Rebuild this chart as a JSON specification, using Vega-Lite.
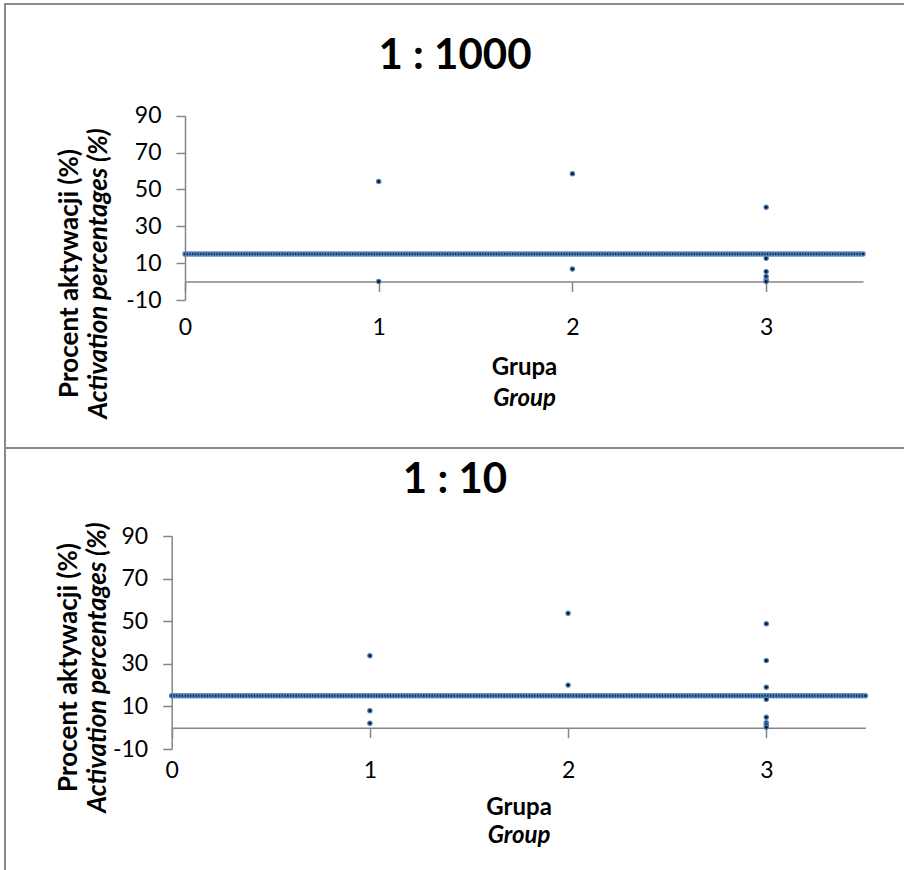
{
  "$schema": "https://vega.github.io/schema/vega-lite/v6.json",
  "padding": {"left": 4, "top": 3, "right": 0, "bottom": 0},
  "background": "white",
  "spacing": 0,
  "bounds": "flush",
  "config": {
    "font": "Lato",
    "view": {"stroke": "#8a8a8a", "strokeWidth": 2},
    "axis": {
      "grid": false,
      "domainColor": "#868686",
      "tickColor": "#868686",
      "domainWidth": 1.5,
      "tickWidth": 1.5,
      "labelColor": "#000000",
      "titleColor": "#000000",
      "labelFont": "Lato",
      "titleFont": "Lato",
      "labelFontSize": 23,
      "titleFontSize": 26,
      "titleFontWeight": "bold",
      "labelFlush": false,
      "labelOverlap": false,
      "labelBound": false,
      "labelExpr": "'' + datum.value"
    },
    "axisX": {"titleFontSize": 24},
    "title": {"font": "Lato", "color": "#000000"}
  },
  "datasets": {
    "ref": [
      {"x":0,"y":15},{"x":0.014,"y":15},{"x":0.028,"y":15},{"x":0.042,"y":15},{"x":0.056,"y":15},{"x":0.07,"y":15},{"x":0.084,"y":15},{"x":0.098,"y":15},{"x":0.112,"y":15},{"x":0.126,"y":15},
      {"x":0.14,"y":15},{"x":0.154,"y":15},{"x":0.168,"y":15},{"x":0.182,"y":15},{"x":0.196,"y":15},{"x":0.21,"y":15},{"x":0.224,"y":15},{"x":0.238,"y":15},{"x":0.252,"y":15},{"x":0.266,"y":15},
      {"x":0.28,"y":15},{"x":0.294,"y":15},{"x":0.308,"y":15},{"x":0.322,"y":15},{"x":0.336,"y":15},{"x":0.35,"y":15},{"x":0.364,"y":15},{"x":0.378,"y":15},{"x":0.392,"y":15},{"x":0.406,"y":15},
      {"x":0.42,"y":15},{"x":0.434,"y":15},{"x":0.448,"y":15},{"x":0.462,"y":15},{"x":0.476,"y":15},{"x":0.49,"y":15},{"x":0.504,"y":15},{"x":0.518,"y":15},{"x":0.532,"y":15},{"x":0.546,"y":15},
      {"x":0.56,"y":15},{"x":0.574,"y":15},{"x":0.588,"y":15},{"x":0.602,"y":15},{"x":0.616,"y":15},{"x":0.63,"y":15},{"x":0.644,"y":15},{"x":0.658,"y":15},{"x":0.672,"y":15},{"x":0.686,"y":15},
      {"x":0.7,"y":15},{"x":0.714,"y":15},{"x":0.728,"y":15},{"x":0.742,"y":15},{"x":0.756,"y":15},{"x":0.77,"y":15},{"x":0.784,"y":15},{"x":0.798,"y":15},{"x":0.812,"y":15},{"x":0.826,"y":15},
      {"x":0.84,"y":15},{"x":0.854,"y":15},{"x":0.868,"y":15},{"x":0.882,"y":15},{"x":0.896,"y":15},{"x":0.91,"y":15},{"x":0.924,"y":15},{"x":0.938,"y":15},{"x":0.952,"y":15},{"x":0.966,"y":15},
      {"x":0.98,"y":15},{"x":0.994,"y":15},{"x":1.008,"y":15},{"x":1.022,"y":15},{"x":1.036,"y":15},{"x":1.05,"y":15},{"x":1.064,"y":15},{"x":1.078,"y":15},{"x":1.092,"y":15},{"x":1.106,"y":15},
      {"x":1.12,"y":15},{"x":1.134,"y":15},{"x":1.148,"y":15},{"x":1.162,"y":15},{"x":1.176,"y":15},{"x":1.19,"y":15},{"x":1.204,"y":15},{"x":1.218,"y":15},{"x":1.232,"y":15},{"x":1.246,"y":15},
      {"x":1.26,"y":15},{"x":1.274,"y":15},{"x":1.288,"y":15},{"x":1.302,"y":15},{"x":1.316,"y":15},{"x":1.33,"y":15},{"x":1.344,"y":15},{"x":1.358,"y":15},{"x":1.372,"y":15},{"x":1.386,"y":15},
      {"x":1.4,"y":15},{"x":1.414,"y":15},{"x":1.428,"y":15},{"x":1.442,"y":15},{"x":1.456,"y":15},{"x":1.47,"y":15},{"x":1.484,"y":15},{"x":1.498,"y":15},{"x":1.512,"y":15},{"x":1.526,"y":15},
      {"x":1.54,"y":15},{"x":1.554,"y":15},{"x":1.568,"y":15},{"x":1.582,"y":15},{"x":1.596,"y":15},{"x":1.61,"y":15},{"x":1.624,"y":15},{"x":1.638,"y":15},{"x":1.652,"y":15},{"x":1.666,"y":15},
      {"x":1.68,"y":15},{"x":1.694,"y":15},{"x":1.708,"y":15},{"x":1.722,"y":15},{"x":1.736,"y":15},{"x":1.75,"y":15},{"x":1.764,"y":15},{"x":1.778,"y":15},{"x":1.792,"y":15},{"x":1.806,"y":15},
      {"x":1.82,"y":15},{"x":1.834,"y":15},{"x":1.848,"y":15},{"x":1.862,"y":15},{"x":1.876,"y":15},{"x":1.89,"y":15},{"x":1.904,"y":15},{"x":1.918,"y":15},{"x":1.932,"y":15},{"x":1.946,"y":15},
      {"x":1.96,"y":15},{"x":1.974,"y":15},{"x":1.988,"y":15},{"x":2.002,"y":15},{"x":2.016,"y":15},{"x":2.03,"y":15},{"x":2.044,"y":15},{"x":2.058,"y":15},{"x":2.072,"y":15},{"x":2.086,"y":15},
      {"x":2.1,"y":15},{"x":2.114,"y":15},{"x":2.128,"y":15},{"x":2.142,"y":15},{"x":2.156,"y":15},{"x":2.17,"y":15},{"x":2.184,"y":15},{"x":2.198,"y":15},{"x":2.212,"y":15},{"x":2.226,"y":15},
      {"x":2.24,"y":15},{"x":2.254,"y":15},{"x":2.268,"y":15},{"x":2.282,"y":15},{"x":2.296,"y":15},{"x":2.31,"y":15},{"x":2.324,"y":15},{"x":2.338,"y":15},{"x":2.352,"y":15},{"x":2.366,"y":15},
      {"x":2.38,"y":15},{"x":2.394,"y":15},{"x":2.408,"y":15},{"x":2.422,"y":15},{"x":2.436,"y":15},{"x":2.45,"y":15},{"x":2.464,"y":15},{"x":2.478,"y":15},{"x":2.492,"y":15},{"x":2.506,"y":15},
      {"x":2.52,"y":15},{"x":2.534,"y":15},{"x":2.548,"y":15},{"x":2.562,"y":15},{"x":2.576,"y":15},{"x":2.59,"y":15},{"x":2.604,"y":15},{"x":2.618,"y":15},{"x":2.632,"y":15},{"x":2.646,"y":15},
      {"x":2.66,"y":15},{"x":2.674,"y":15},{"x":2.688,"y":15},{"x":2.702,"y":15},{"x":2.716,"y":15},{"x":2.73,"y":15},{"x":2.744,"y":15},{"x":2.758,"y":15},{"x":2.772,"y":15},{"x":2.786,"y":15},
      {"x":2.8,"y":15},{"x":2.814,"y":15},{"x":2.828,"y":15},{"x":2.842,"y":15},{"x":2.856,"y":15},{"x":2.87,"y":15},{"x":2.884,"y":15},{"x":2.898,"y":15},{"x":2.912,"y":15},{"x":2.926,"y":15},
      {"x":2.94,"y":15},{"x":2.954,"y":15},{"x":2.968,"y":15},{"x":2.982,"y":15},{"x":2.996,"y":15},{"x":3.01,"y":15},{"x":3.024,"y":15},{"x":3.038,"y":15},{"x":3.052,"y":15},{"x":3.066,"y":15},
      {"x":3.08,"y":15},{"x":3.094,"y":15},{"x":3.108,"y":15},{"x":3.122,"y":15},{"x":3.136,"y":15},{"x":3.15,"y":15},{"x":3.164,"y":15},{"x":3.178,"y":15},{"x":3.192,"y":15},{"x":3.206,"y":15},
      {"x":3.22,"y":15},{"x":3.234,"y":15},{"x":3.248,"y":15},{"x":3.262,"y":15},{"x":3.276,"y":15},{"x":3.29,"y":15},{"x":3.304,"y":15},{"x":3.318,"y":15},{"x":3.332,"y":15},{"x":3.346,"y":15},
      {"x":3.36,"y":15},{"x":3.374,"y":15},{"x":3.388,"y":15},{"x":3.402,"y":15},{"x":3.416,"y":15},{"x":3.43,"y":15},{"x":3.444,"y":15},{"x":3.458,"y":15},{"x":3.472,"y":15},{"x":3.486,"y":15},
      {"x":3.5,"y":15}
    ],
    "p1000": [
      {"g":1,"v":54.3},{"g":1,"v":0},
      {"g":2,"v":58.5},{"g":2,"v":6.8},
      {"g":3,"v":40.3},{"g":3,"v":12.6},{"g":3,"v":5.4},{"g":3,"v":2.7},{"g":3,"v":0.9},{"g":3,"v":0}
    ],
    "p10": [
      {"g":1,"v":33.8},{"g":1,"v":8},{"g":1,"v":2.1},
      {"g":2,"v":53.7},{"g":2,"v":20},
      {"g":3,"v":48.8},{"g":3,"v":31.5},{"g":3,"v":19},{"g":3,"v":13.3},{"g":3,"v":4.9},{"g":3,"v":2.3},{"g":3,"v":1.3},{"g":3,"v":0.2}
    ]
  },
  "resolve": {"scale": {"x": "independent", "y": "independent"}},
  "vconcat": [
    {
      "width": 900,
      "height": 444,
      "title": {"text": "1 : 1000", "fontSize": 42, "fontWeight": "bold", "offset": -94, "baseline": "middle", "anchor": "middle", "frame": "group"},
      "resolve": {"axis": {"x": "independent", "y": "independent"}},
      "layer": [
        {
          "data": {"name": "ref"},
          "mark": {"type": "circle", "size": 16, "fill": "#17243f", "stroke": "#4f81bd", "strokeWidth": 1.5, "opacity": 1},
          "encoding": {
            "x": {"field": "x", "type": "quantitative",
              "scale": {"domain": [0, 3.5], "range": [180, 858], "nice": false, "zero": false},
              "axis": {"orient": "bottom", "offset": -166.4, "values": [0, 1, 2, 3], "tickSize": 10, "labelPadding": 25, "title": "Grupa", "titleY": 86, "titleBaseline": "middle"}},
            "y": {"field": "y", "type": "quantitative",
              "scale": {"domain": [-10, 90], "range": [296, 111.7], "nice": false, "zero": false},
              "axis": {"orient": "left", "offset": -180, "values": [-10, 10, 30, 50, 70, 90], "tickSize": 9, "labelPadding": 15, "title": "Activation percentages (%)", "titleFontStyle": "italic", "titleX": -87, "titleY": 269, "titleBaseline": "middle", "titleAlign": "center"}}
          }
        },
        {
          "data": {"name": "p1000"},
          "mark": {"type": "circle", "size": 18, "fill": "#0b1326", "stroke": "#4f81bd", "strokeWidth": 1.2, "opacity": 1},
          "encoding": {
            "x": {"field": "g", "type": "quantitative",
              "scale": {"domain": [0, 3.5], "range": [180, 858], "nice": false, "zero": false},
              "axis": {"orient": "bottom", "offset": -166.4, "domain": false, "ticks": false, "labels": false, "title": "Group", "titleFontStyle": "italic", "titleY": 117, "titleBaseline": "middle"}},
            "y": {"field": "v", "type": "quantitative",
              "scale": {"domain": [-10, 90], "range": [296, 111.7], "nice": false, "zero": false},
              "axis": {"orient": "left", "offset": -180, "domain": false, "ticks": false, "labels": false, "title": "Procent aktywacji (%)", "titleX": -116, "titleY": 269, "titleBaseline": "middle", "titleAlign": "center"}}
          }
        }
      ]
    },
    {
      "width": 900,
      "height": 424,
      "title": {"text": "1 : 10", "fontSize": 42, "fontWeight": "bold", "offset": -74, "baseline": "middle", "anchor": "middle", "frame": "group"},
      "resolve": {"axis": {"x": "independent", "y": "independent"}},
      "layer": [
        {
          "data": {"name": "ref"},
          "mark": {"type": "circle", "size": 16, "fill": "#17243f", "stroke": "#4f81bd", "strokeWidth": 1.5, "opacity": 1},
          "encoding": {
            "x": {"field": "x", "type": "quantitative",
              "scale": {"domain": [0, 3.5], "range": [166.7, 860.4], "nice": false, "zero": false},
              "axis": {"orient": "bottom", "offset": -144.3, "values": [0, 1, 2, 3], "tickSize": 10, "labelPadding": 22, "title": "Grupa", "titleY": 80, "titleBaseline": "middle"}},
            "y": {"field": "y", "type": "quantitative",
              "scale": {"domain": [-10, 90], "range": [301, 88], "nice": false, "zero": false},
              "axis": {"orient": "left", "offset": -166.7, "values": [-10, 10, 30, 50, 70, 90], "tickSize": 9, "labelPadding": 15, "title": "Activation percentages (%)", "titleFontStyle": "italic", "titleX": -74, "titleY": 219, "titleBaseline": "middle", "titleAlign": "center"}}
          }
        },
        {
          "data": {"name": "p10"},
          "mark": {"type": "circle", "size": 18, "fill": "#0b1326", "stroke": "#4f81bd", "strokeWidth": 1.2, "opacity": 1},
          "encoding": {
            "x": {"field": "g", "type": "quantitative",
              "scale": {"domain": [0, 3.5], "range": [166.7, 860.4], "nice": false, "zero": false},
              "axis": {"orient": "bottom", "offset": -144.3, "domain": false, "ticks": false, "labels": false, "title": "Group", "titleFontStyle": "italic", "titleY": 108, "titleBaseline": "middle"}},
            "y": {"field": "v", "type": "quantitative",
              "scale": {"domain": [-10, 90], "range": [301, 88], "nice": false, "zero": false},
              "axis": {"orient": "left", "offset": -166.7, "domain": false, "ticks": false, "labels": false, "title": "Procent aktywacji (%)", "titleX": -103, "titleY": 219, "titleBaseline": "middle", "titleAlign": "center"}}
          }
        }
      ]
    }
  ]
}
